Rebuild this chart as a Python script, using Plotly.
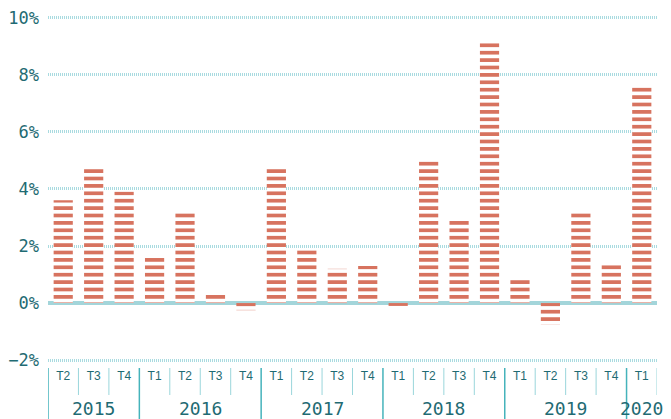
import plotly.graph_objects as go

years = ["2015"] * 3 + ["2016"] * 4 + ["2017"] * 4 + ["2018"] * 4 + ["2019"] * 4 + ["2020"]
quarters = ["T2", "T3", "T4",
            "T1", "T2", "T3", "T4",
            "T1", "T2", "T3", "T4",
            "T1", "T2", "T3", "T4",
            "T1", "T2", "T3", "T4",
            "T1"]
values = [3.6, 4.8, 3.9,
          1.6, 3.2, 0.3, -0.25,
          4.8, 1.9, 1.2, 1.3,
          -0.1, 5.0, 2.9, 9.2,
          0.9, -0.75, 3.2, 1.4,
          7.6]
y_ticks = [-2, 0, 2, 4, 6, 8, 10]

CORAL = "#d7735f"
TEAL_TXT = "#1f6b73"
GRID = "#a9dbe0"
Q_LINE = "#9ad6db"
Y_LINE = "#45b3bb"

n = len(values)
idx = list(range(n))

fig = go.Figure()
fig.add_trace(go.Bar(
    x=idx,
    y=values,
    width=0.63,
    marker=dict(
        color=CORAL,
        line=dict(width=0),
        pattern=dict(shape="-", fgcolor=CORAL, bgcolor="white", size=7.4, solidity=0.5, fillmode="replace"),
    ),
))

# page body has an 8px default margin, so the figure is sized to fit the window
W, H = 663, 411
M = dict(l=40, r=14, t=4, b=56)
plot_h = H - M["t"] - M["b"]

# separators between quarters and years, derived from category indices
q_top = -5 / plot_h
q_bot = -32 / plot_h
y_bot = -56 / plot_h
for i in range(n + 1):
    is_year = i == 0 or (0 < i < n and years[i] != years[i - 1])
    if is_year:
        continue
    fig.add_shape(type="line", xref="x", yref="paper", x0=i - 0.5, x1=i - 0.5,
                  y0=q_top, y1=q_bot, line=dict(color=Q_LINE, width=1))
for i in range(n):
    if i == 0 or years[i] != years[i - 1]:
        fig.add_shape(type="line", xref="x", yref="paper", x0=i - 0.5, x1=i - 0.5,
                      y0=q_top, y1=y_bot, line=dict(color=Y_LINE, width=1.5))

# year labels centered on their groups
groups = {}
for i, yv in enumerate(years):
    groups.setdefault(yv, []).append(i)
for yv, ids in groups.items():
    fig.add_annotation(x=sum(ids) / len(ids), y=-45 / plot_h, xref="x", yref="paper",
                       text=yv, showarrow=False, yanchor="middle",
                       font=dict(family="DejaVu Sans Mono", size=18, color=TEAL_TXT))

fig.update_layout(
    width=W, height=H,
    margin=M,
    paper_bgcolor="white", plot_bgcolor="white",
    showlegend=False,
)
fig.update_yaxes(
    automargin=False,
    range=[-2.1, 10.2],
    tickvals=y_ticks,
    ticktext=[f"{v}%".replace("-", "\u2212") for v in y_ticks],
    tickfont=dict(family="DejaVu Sans Mono", size=17, color=TEAL_TXT),
    showgrid=True, gridcolor=GRID, gridwidth=3, griddash="1px,1px",
    zeroline=True, zerolinecolor="#a3d5da", zerolinewidth=4,
    ticks="", showline=False,
    ticklabelstandoff=8,
    ticklabeloverflow="allow",
)
fig.update_xaxes(
    automargin=False,
    range=[-0.5, n - 0.5],
    tickvals=idx,
    ticktext=quarters,
    tickfont=dict(family="Liberation Sans", size=12, color=TEAL_TXT),
    ticks="", showgrid=False, showline=False, zeroline=False,
    ticklabelstandoff=4,
    ticklabeloverflow="allow",
)

fig.write_html("out.html")
